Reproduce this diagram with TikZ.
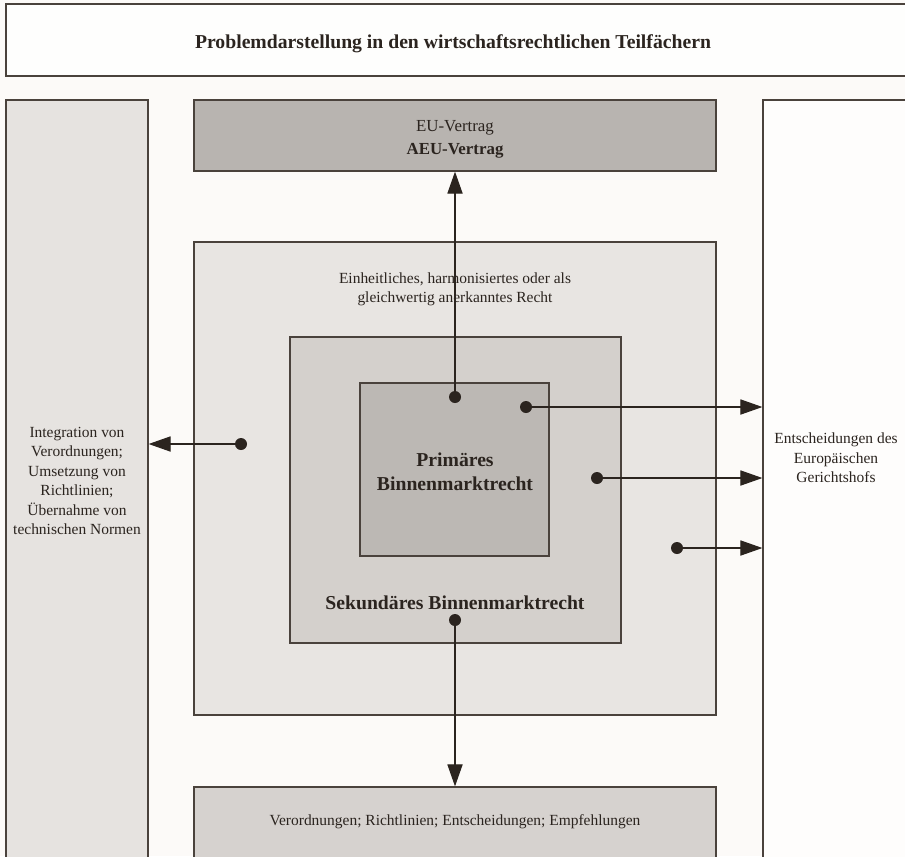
\documentclass[tikz,border=0pt]{standalone}
\usepackage{fontspec}
\setmainfont{Liberation Serif}
\usepackage{xcolor}
\usetikzlibrary{arrows.meta,positioning,fit}
\definecolor{ink}{HTML}{2B241F}
\definecolor{rim}{HTML}{4A423C}
\definecolor{paper}{HTML}{FCFAF8}
\definecolor{sidegray}{HTML}{E6E3E0}
\definecolor{treatygray}{HTML}{B8B4B0}
\definecolor{outergray}{HTML}{E8E5E2}
\definecolor{midgray}{HTML}{D4D0CC}
\definecolor{innergray}{HTML}{BCB8B4}
\definecolor{basegray}{HTML}{D6D2CF}
\tikzset{
  frame/.style={draw=rim, line width=0.9pt, inner sep=0pt},
  plaintext/.style={text=ink, align=center, inner sep=0pt,
                    font=\fontsize{11}{13.8}\selectfont},
  boldtext/.style={text=ink, align=center, inner sep=0pt,
                   font=\fontsize{14}{17}\selectfont\bfseries},
  srcdot/.style={circle, fill=ink, inner sep=0pt, minimum size=3mm},
  flow/.style={-{Triangle[length=5.5mm,width=3.8mm]}, line width=0.8pt, draw=ink}
}
\begin{document}
\begin{tikzpicture}[x=0.025cm, y=-0.025cm]
    \useasboundingbox (0,0) rectangle (905,856);
    \clip (0,0) rectangle (905,856);
    \fill[paper] (0,0) rectangle (905,856);

    % Frames
    \node[frame, fill=white!70!paper, fit={(6,4) (910,76)}] (head) {};
    \node[frame, fill=sidegray, fit={(6,100) (148,870)}] (lcol) {};
    \node[frame, fill=white!60!paper, fit={(763,100) (910,870)}] (rcol) {};
    \node[frame, fill=treatygray, fit={(194,100) (716,171)}] (eu) {};
    \node[frame, fill=outergray, fit={(194,242) (716,715)}] (outer) {};
    \node[frame, fill=midgray, fit={(290,337) (621,643)}] (mid) {};
    \node[frame, fill=innergray, fit={(360,383) (549,556)}] (inner) {};
    \node[frame, fill=basegray, fit={(194,787) (716,870)}] (base) {};

    % Texts
    \node[boldtext] (headtext) at (453,44)
      {Problemdarstellung in den wirtschaftsrechtlichen Teilfächern};
    \node[plaintext, font=\fontsize{12}{16.3}\selectfont] (eutext) at (455,139)
      {EU-Vertrag\\\textbf{AEU-Vertrag}};
    \node[plaintext] (outertext) at (455,289)
      {Einheitliches, harmonisiertes oder als\\gleichwertig anerkanntes Recht};
    \node[boldtext] (innertext) at (455,472)
      {Primäres\\Binnenmarktrecht};
    \node[boldtext] (midtext) at (455,603) {Sekundäres Binnenmarktrecht};
    \node[plaintext] (basetext) at (455,822)
      {Verordnungen; Richtlinien; Entscheidungen; Empfehlungen};
    \node[plaintext] (ltext) at (77,481)
      {Integration von\\Verordnungen;\\Umsetzung von\\Richtlinien;\\Übernahme von\\technischen Normen};
    \node[plaintext] (rtext) at (836,458)
      {Entscheidungen des\\Europäischen\\Gerichtshofs};

    % Dots
    \node[srcdot] (dUp) at (455,397) {};
    \node[srcdot] (dR1) at (526,407) {};
    \node[srcdot] (dR2) at (597,478) {};
    \node[srcdot] (dR3) at (677,548) {};
    \node[srcdot] (dL)  at (241,444) {};
    \node[srcdot] (dDn) at (455,620) {};

    % Arrows
    \draw[flow] (dUp.center) -- (eu.south);
    \draw[flow] (dR1.center) -- (dR1 -| rcol.west);
    \draw[flow] (dR2.center) -- (dR2 -| rcol.west);
    \draw[flow] (dR3.center) -- (dR3 -| rcol.west);
    \draw[flow] (dL.center) -- (dL -| lcol.east);
    \draw[flow] (dDn.center) -- (base.north);
\end{tikzpicture}
\end{document}
